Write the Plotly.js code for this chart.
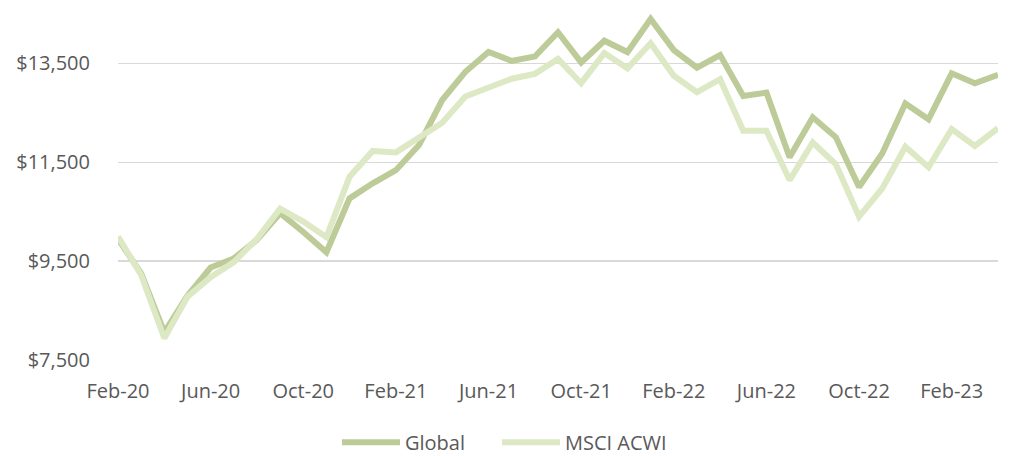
<!DOCTYPE html>
<html>
<head>
<meta charset="utf-8">
<script src="https://cdn.plot.ly/plotly-3.0.1.min.js"></script>
<style>html,body{margin:0;padding:0;background:#fff;}#chart{width:1011px;height:456px;}</style>
</head>
<body>
<div id="chart"></div>
<script>
const months = ["Feb-20","Mar-20","Apr-20","May-20","Jun-20","Jul-20","Aug-20","Sep-20","Oct-20","Nov-20","Dec-20","Jan-21",
  "Feb-21","Mar-21","Apr-21","May-21","Jun-21","Jul-21","Aug-21","Sep-21","Oct-21","Nov-21","Dec-21","Jan-22",
  "Feb-22","Mar-22","Apr-22","May-22","Jun-22","Jul-22","Aug-22","Sep-22","Oct-22","Nov-22","Dec-22","Jan-23",
  "Feb-23","Mar-23","Apr-23"];
const globalVals = [9950,9250,8060,8800,9370,9555,9930,10470,10090,9680,10770,11075,
  11340,11850,12760,13330,13730,13550,13640,14130,13520,13960,13730,14400,
  13770,13415,13670,12840,12910,11600,12410,12005,11000,11680,12690,12370,
  13300,13100,13270];
const msciVals = [10000,9220,7940,8780,9175,9480,9950,10560,10300,9985,11210,11730,
  11700,11990,12300,12830,13020,13190,13290,13590,13100,13710,13400,13910,
  13250,12920,13180,12140,12140,11140,11900,11460,10400,10970,11815,11400,
  12170,11830,12190];
const tickLabels = ["Feb-20","Jun-20","Oct-20","Feb-21","Jun-21","Oct-21","Feb-22","Jun-22","Oct-22","Feb-23"];
const yTicks = [7500,9500,11500,13500];

const fontFam = "'Open Sans', 'Noto Sans', sans-serif";
const fs = 20;
const traces = [
  {x: months, y: globalVals, name: "Global", type: "scatter", mode: "lines",
   line: {color: "#bccb98", width: 6}, legend: "legend"},
  {x: months, y: msciVals, name: "MSCI ACWI", type: "scatter", mode: "lines",
   line: {color: "#dde8c5", width: 6}, legend: "legend2"}
];
const legendBase = {orientation: "h", xref: "container", xanchor: "left",
  yref: "container", y: 0.03, yanchor: "middle",
  font: {family: fontFam, size: fs, color: "#595959"}, itemwidth: 58, bgcolor: "rgba(0,0,0,0)"};
const layout = {
  width: 1011, height: 456,
  margin: {l: 118, r: 13, t: 14, b: 96, autoexpand: false},
  paper_bgcolor: "#fff", plot_bgcolor: "#fff",
  font: {family: fontFam, size: fs, color: "#595959"},
  showlegend: true,
  legend: Object.assign({}, legendBase, {x: 337 / 1011}),
  legend2: Object.assign({}, legendBase, {x: 497 / 1011}),
  xaxis: {type: "category", range: [0, months.length - 1], tickmode: "array",
    tickvals: tickLabels, ticktext: tickLabels, showgrid: false, zeroline: false,
    showline: false, ticks: "", ticklabelstandoff: 17,
    tickfont: {family: fontFam, size: fs, color: "#595959"}},
  yaxis: {range: [7500, 14500], tickmode: "array", tickvals: yTicks,
    ticktext: yTicks.map(v => "$" + v.toLocaleString("en-US")),
    showgrid: true, gridcolor: "#d9d9d9", gridwidth: 1.5, zeroline: false,
    showline: false, ticks: "", ticklabelstandoff: 27,
    tickfont: {family: fontFam, size: fs, color: "#595959"}}
};
Plotly.newPlot("chart", traces, layout, {displayModeBar: false, staticPlot: true});
</script>
</body>
</html>
